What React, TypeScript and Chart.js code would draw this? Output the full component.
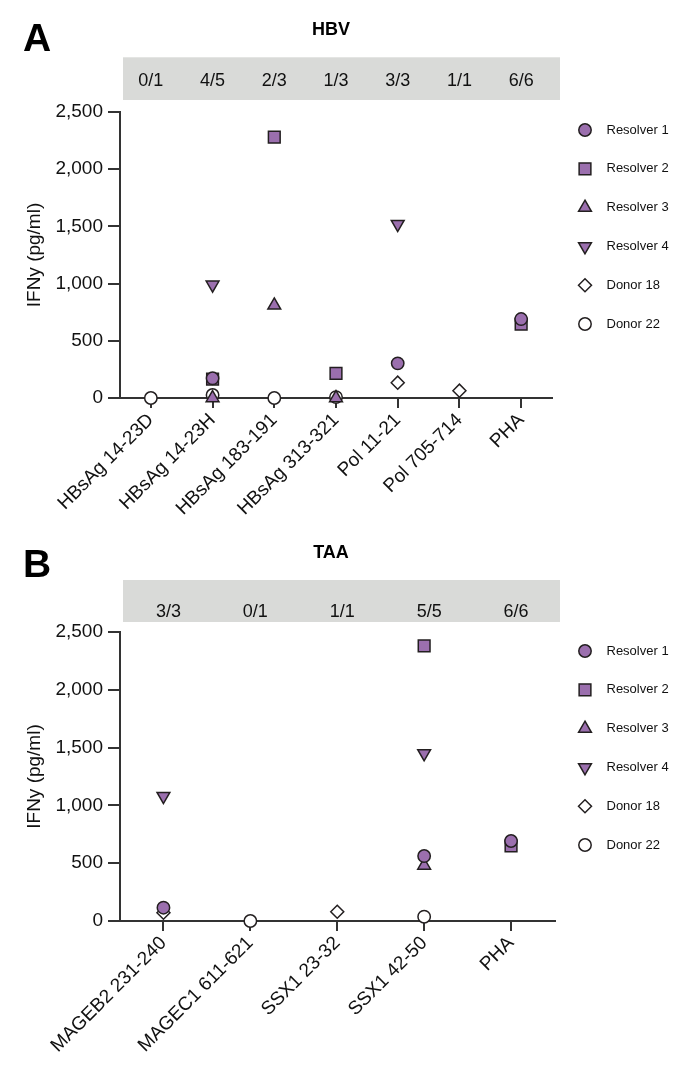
import React, { useEffect, useRef } from 'react';
import { Chart, registerables } from 'chart.js';
import { drawPoint } from 'chart.js/helpers';

Chart.register(...registerables);

const FONT = "'Liberation Sans', Arial, Helvetica, sans-serif";
const PURPLE = '#9b6fae';
const EDGE = '#231f20';
const AXIS = '#333333';
const TEXT = '#111111';
const BAND = '#d9dad8';

// ---------- data ----------
const seriesNames = ['Resolver 1', 'Resolver 2', 'Resolver 3', 'Resolver 4', 'Donor 18', 'Donor 22'];

const hbvCategories = ['HBsAg 14-23D', 'HBsAg 14-23H', 'HBsAg 183-191', 'HBsAg 313-321', 'Pol 11-21', 'Pol 705-714', 'PHA'];
const hbvFractions = ['0/1', '4/5', '2/3', '1/3', '3/3', '1/1', '6/6'];
const hbvResolver1 = [null, 172, null, null, 303, null, 690];
const hbvResolver2 = [null, 165, 2280, 216, null, null, 645];
const hbvResolver3 = [null, 0, 810, 0, null, null, null];
const hbvResolver4 = [null, 990, null, null, 1520, null, null];
const hbvDonor18 = [null, null, null, null, 134, 64, null];
const hbvDonor22 = [0, 26, 0, 8, null, null, null];

const taaCategories = ['MAGEB2 231-240', 'MAGEC1 611-621', 'SSX1 23-32', 'SSX1 42-50', 'PHA'];
const taaFractions = ['3/3', '0/1', '1/1', '5/5', '6/6'];
const taaResolver1 = [115, null, null, 562, 692];
const taaResolver2 = [null, null, null, 2380, 650];
const taaResolver3 = [null, null, null, 480, null];
const taaResolver4 = [1080, null, null, 1450, null];
const taaDonor18 = [72, null, 80, null, null];
const taaDonor22 = [null, 0, null, 37, null];

const yTicksMax = 2500;
const yTickStep = 500;
const yTitle = 'IFNy (pg/ml)';

// ---------- marker styles ----------
const markerStyles = [
  { style: 'circle', rotation: 0, radius: 6.2, fill: PURPLE },
  { style: 'rect', rotation: 0, radius: 8.3, fill: PURPLE },
  { style: 'triangle', rotation: 0, radius: 7.4, fill: PURPLE },
  { style: 'triangle', rotation: 180, radius: 7.4, fill: PURPLE },
  { style: 'rectRot', rotation: 0, radius: 6.5, fill: '#ffffff' },
  { style: 'circle', rotation: 0, radius: 6.2, fill: '#ffffff' },
];

type PanelCfg = {
  letter: string;
  title: string;
  categories: string[];
  fractions: string[];
  series: (number | null)[][];
  top: number;
  height: number;
  xAxisHeight: number;
  rightPad: number;
  bandTop: number;
  bandBottom: number;
  fracOffset: number;
  fracShift: number;
  legendTop: number;
  legendStep: number;
  letterTop: number;
  titleTop: number;
};

const W = 676;

function makeDecor(cfg: PanelCfg) {
  return {
    id: 'decor',
    beforeDraw(chart: any) {
      const { ctx, chartArea } = chart;
      ctx.save();
      ctx.fillStyle = BAND;
      ctx.fillRect(chartArea.left + 3, chartArea.top - cfg.bandTop, 437, cfg.bandTop - cfg.bandBottom);
      ctx.restore();
    },
    afterDraw(chart: any) {
      const { ctx, chartArea } = chart;
      const xs = chart.scales.x;
      ctx.save();
      ctx.font = `18px ${FONT}`;
      ctx.fillStyle = TEXT;
      ctx.textAlign = 'center';
      ctx.textBaseline = 'middle';
      cfg.fractions.forEach((f, i) => {
        ctx.fillText(f, xs.getPixelForValue(i) + cfg.fracShift, chartArea.top - cfg.fracOffset);
      });
      chart.data.datasets.forEach((ds: any, i: number) => {
        const y = cfg.legendTop + i * cfg.legendStep;
        ctx.fillStyle = ds.pointBackgroundColor;
        ctx.strokeStyle = ds.pointBorderColor;
        ctx.lineWidth = ds.pointBorderWidth;
        drawPoint(
          ctx,
          { pointStyle: ds.pointStyle, rotation: ds.pointRotation, radius: ds.pointRadius, borderWidth: ds.pointBorderWidth } as any,
          577,
          y
        );
        ctx.fillStyle = TEXT;
        ctx.font = `13px ${FONT}`;
        ctx.textAlign = 'left';
        ctx.textBaseline = 'middle';
        ctx.fillText(ds.label, 598.5, y);
      });
      ctx.restore();
    },
  };
}

function Panel({ cfg }: { cfg: PanelCfg }) {
  const ref = useRef<HTMLCanvasElement | null>(null);
  useEffect(() => {
    if (!ref.current) return;
    const datasets = seriesNames.map((name, i) => ({
      label: name,
      data: cfg.series[i],
      showLine: false,
      pointStyle: markerStyles[i].style,
      pointRotation: markerStyles[i].rotation,
      pointRadius: markerStyles[i].radius,
      pointHoverRadius: markerStyles[i].radius,
      pointBackgroundColor: markerStyles[i].fill,
      pointBorderColor: EDGE,
      pointBorderWidth: 1.5,
      clip: false as any,
    }));
    const chart = new Chart(ref.current, {
      type: 'line',
      data: { labels: cfg.categories, datasets },
      options: {
        responsive: false,
        animation: false,
        events: [],
        layout: { padding: { top: 104, right: cfg.rightPad, left: 0, bottom: 0 } },
        plugins: {
          legend: { display: false },
          tooltip: { enabled: false },
          title: { display: false },
        },
        scales: {
          x: {
            type: 'category',
            offset: true,
            grid: { display: true, drawOnChartArea: false, drawTicks: true, tickLength: 10, offset: false, color: AXIS, lineWidth: 2 },
            border: { display: true, color: AXIS, width: 2 },
            ticks: { autoSkip: false, minRotation: 45, maxRotation: 45, padding: 1, color: TEXT, font: { family: FONT, size: 19 } },
            afterFit: (s: any) => { s.height = cfg.xAxisHeight; },
          },
          y: {
            min: 0,
            max: yTicksMax,
            grid: { drawOnChartArea: false, drawTicks: true, tickLength: 12, color: AXIS, lineWidth: 2 },
            border: { display: true, color: AXIS, width: 2 },
            ticks: {
              stepSize: yTickStep,
              padding: 5,
              color: TEXT,
              font: { family: FONT, size: 19 },
              callback: (v: any) => Number(v).toLocaleString('en-US'),
            },
            title: { display: true, text: yTitle, color: TEXT, font: { family: FONT, size: 19 }, padding: { top: 15, bottom: 0 } },
            afterFit: (s: any) => { s.width = 112; },
          },
        },
      } as any,
      plugins: [makeDecor(cfg)],
    });
    return () => chart.destroy();
  }, [cfg]);

  return (
    <div style={{ position: 'absolute', left: 0, top: cfg.top, width: W, height: cfg.height }}>
      <canvas ref={ref} width={W} height={cfg.height} style={{ display: 'block', width: W, height: cfg.height }} />
      <div
        style={{
          position: 'absolute', left: 15, top: cfg.letterTop, fontFamily: FONT, fontWeight: 700,
          fontSize: 39, lineHeight: '39px', color: '#000',
        }}
      >
        {cfg.letter}
      </div>
      <div
        style={{
          position: 'absolute', left: 323, top: cfg.titleTop, transform: 'translateX(-50%)', fontFamily: FONT,
          fontWeight: 700, fontSize: 18, lineHeight: '18px', color: '#000', whiteSpace: 'nowrap',
        }}
      >
        {cfg.title}
      </div>
    </div>
  );
}

const panelA: PanelCfg = {
  letter: 'A',
  title: 'HBV',
  categories: hbvCategories,
  fractions: hbvFractions,
  series: [hbvResolver1, hbvResolver2, hbvResolver3, hbvResolver4, hbvDonor18, hbvDonor22],
  top: 0,
  height: 520,
  xAxisHeight: 130,
  rightPad: 132,
  bandTop: 54.7,
  bandBottom: 12,
  fracOffset: 31.3,
  fracShift: 0,
  legendTop: 122,
  legendStep: 38.8,
  letterTop: 9.5,
  titleTop: 11.6,
};

const panelB: PanelCfg = {
  letter: 'B',
  title: 'TAA',
  categories: taaCategories,
  fractions: taaFractions,
  series: [taaResolver1, taaResolver2, taaResolver3, taaResolver4, taaDonor18, taaDonor22],
  top: 520,
  height: 539,
  xAxisHeight: 146,
  rightPad: 129.5,
  bandTop: 52,
  bandBottom: 10,
  fracOffset: 20.3,
  fracShift: 5,
  legendTop: 123,
  legendStep: 38.8,
  letterTop: 15.5,
  titleTop: 15.2,
};

export default function App() {
  return (
    <div style={{ position: 'relative', width: W, height: 1059 }}>
      <Panel cfg={panelA} />
      <Panel cfg={panelB} />
    </div>
  );
}
